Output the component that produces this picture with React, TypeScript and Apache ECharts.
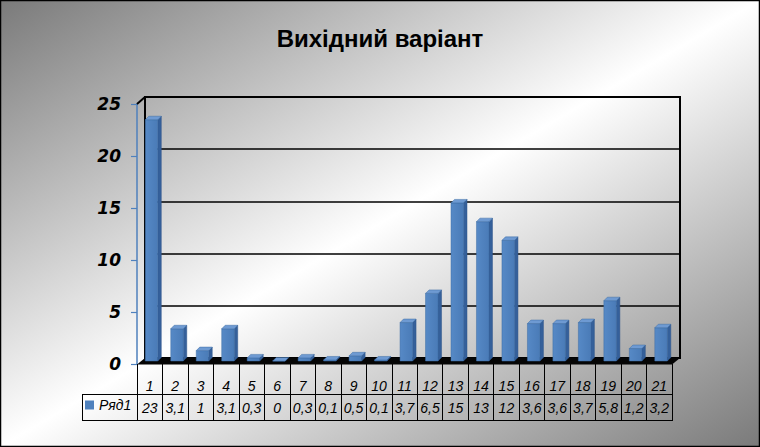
import React, { useEffect, useRef } from "react";
import * as echarts from "echarts";

const chartTitle = "Вихідний варіант";
const seriesName = "Ряд1";
const categories = ["1","2","3","4","5","6","7","8","9","10","11","12","13","14","15","16","17","18","19","20","21"];
const values = [23.2, 3.1, 1, 3.1, 0.3, 0, 0.3, 0.1, 0.5, 0.1, 3.7, 6.5, 15.2, 13.4, 11.6, 3.6, 3.6, 3.7, 5.8, 1.2, 3.2];
const yMin = 0;
const yMax = 25;
const yInterval = 5;

const formatValue = (v: number) =>
  v >= 10 ? String(Math.round(v)) : String(Math.round(v * 10) / 10).replace(".", ",");

export default function App() {
  const ref = useRef<HTMLDivElement>(null);
  useEffect(() => {
    if (!ref.current) return;
    const chart = echarts.init(ref.current, null, { renderer: "svg" });
    const blue = "#4F81BD";
    const option: any = {
      animation: false,
      backgroundColor: new echarts.graphic.LinearGradient(0, 0, 1, 1, [
        { offset: 0, color: "#7a7a7a" },
        { offset: 0.5, color: "#ffffff" },
        { offset: 1, color: "#7a7a7a" },
      ]),
      title: {
        text: chartTitle,
        left: "center",
        top: 21,
        textStyle: { fontFamily: "Liberation Sans, Arial", fontWeight: "bold", fontSize: 24, color: "#000" },
      },
      legend: {
        data: [seriesName],
        left: 85,
        top: 398,
        padding: 0,
        icon: "rect",
        itemWidth: 9,
        itemHeight: 9,
        selectedMode: false,
        textStyle: { fontFamily: "Liberation Sans, Arial", fontStyle: "italic", fontSize: 14, color: "#000" },
      },
      grid: [
        { left: 145, right: 80, top: 97, bottom: 89, show: true, borderColor: "#000", borderWidth: 2, backgroundColor: "transparent" },
        { left: 137, right: 88, top: 104, bottom: 83, show: false },
      ],
      xAxis: [
        { type: "category", gridIndex: 0, data: categories, show: false },
        {
          type: "category",
          gridIndex: 1,
          data: categories,
          position: "bottom",
          axisLine: { show: false },
          axisTick: { show: true, length: 57, interval: 0, lineStyle: { color: "#000", width: 1 } },
          axisLabel: { interval: 0, margin: 15, fontFamily: "Liberation Sans, Arial", fontStyle: "italic", fontSize: 14, color: "#000" },
        },
        {
          type: "category",
          gridIndex: 1,
          data: values.map(formatValue),
          position: "bottom",
          axisLine: { show: false },
          axisTick: { show: false },
          axisLabel: { interval: 0, margin: 37, fontFamily: "Liberation Sans, Arial", fontStyle: "italic", fontSize: 14, color: "#000" },
        },
      ],
      yAxis: [
        {
          type: "value",
          gridIndex: 0,
          min: yMin,
          max: yMax,
          interval: yInterval,
          axisLine: { show: false },
          axisTick: { show: false },
          axisLabel: { show: false },
          splitLine: { show: true, lineStyle: { color: "#000", width: 1.6 } },
        },
        {
          type: "value",
          gridIndex: 1,
          min: yMin,
          max: yMax,
          interval: yInterval,
          axisLine: { show: true, lineStyle: { color: blue, width: 1.5 } },
          axisTick: { show: true, length: 6, lineStyle: { color: blue, width: 1.2 } },
          axisLabel: { margin: 16, fontFamily: "DejaVu Sans", fontStyle: "italic", fontWeight: "bold", fontSize: 17, color: "#000" },
          splitLine: { show: false },
        },
      ],
      series: [
        {
          type: "custom",
          name: seriesName,
          xAxisIndex: 1,
          yAxisIndex: 1,
          z: 10,
          itemStyle: { color: blue },
          encode: { x: 0, y: 1 },
          data: values.map((v, i) => [i, v]),
          renderItem: (params: any, api: any) => {
            const i = api.value(0);
            const v = api.value(1);
            const base = api.coord([i, 0]);
            const top = api.coord([i, v]);
            const w = 12.5;
            const d = 3.5;
            const x0 = base[0] - w / 2 + 1.8;
            const yb = base[1] - 3;
            const yt = top[1] - 3;
            return {
              type: "group",
              children: [
                {
                  type: "polygon",
                  shape: { points: [[x0 + w, yt], [x0 + w + d, yt - d], [x0 + w + d, yb - d], [x0 + w, yb]] },
                  style: { fill: "#35609A", stroke: "#2E548A", lineWidth: 0.5 },
                },
                {
                  type: "rect",
                  shape: { x: x0, y: yt, width: w, height: yb - yt },
                  style: {
                    fill: new echarts.graphic.LinearGradient(0, 0, 1, 0, [
                      { offset: 0, color: "#5689C6" },
                      { offset: 1, color: "#4A7BB7" },
                    ]),
                    stroke: "#3D6CA5",
                    lineWidth: 0.5,
                  },
                },
                {
                  type: "polygon",
                  shape: { points: [[x0, yt], [x0 + d, yt - d], [x0 + w + d, yt - d], [x0 + w, yt]] },
                  style: { fill: "#6E9AD2", stroke: "#3D6CA5", lineWidth: 0.5 },
                },
              ],
            };
          },
        },
      ],
      graphic: [
        {
          type: "polygon",
          z: 3,
          shape: { points: [[137, 364.5], [672, 364.5], [680, 358], [145, 358]] },
          style: { fill: "#050505" },
        },
        { type: "line", z: 3, shape: { x1: 137, y1: 104, x2: 145, y2: 97 }, style: { stroke: "#000", lineWidth: 2 } },
        { type: "line", z: 3, shape: { x1: 82, y1: 394.5, x2: 672, y2: 394.5 }, style: { stroke: "#000", lineWidth: 1 } },
        { type: "line", z: 3, shape: { x1: 82, y1: 420.5, x2: 672, y2: 420.5 }, style: { stroke: "#000", lineWidth: 1 } },
        { type: "line", z: 3, shape: { x1: 82.5, y1: 394, x2: 82.5, y2: 421 }, style: { stroke: "#000", lineWidth: 1 } },
        { type: "rect", z: 20, shape: { x: 0.5, y: 0.5, width: 759, height: 446 }, style: { fill: "none", stroke: "#000", lineWidth: 1.5 } },
      ],
    };
    chart.setOption(option);
    return () => chart.dispose();
  }, []);
  return <div ref={ref} style={{ position: "absolute", left: 0, top: 0, width: 760, height: 447 }} />;
}
